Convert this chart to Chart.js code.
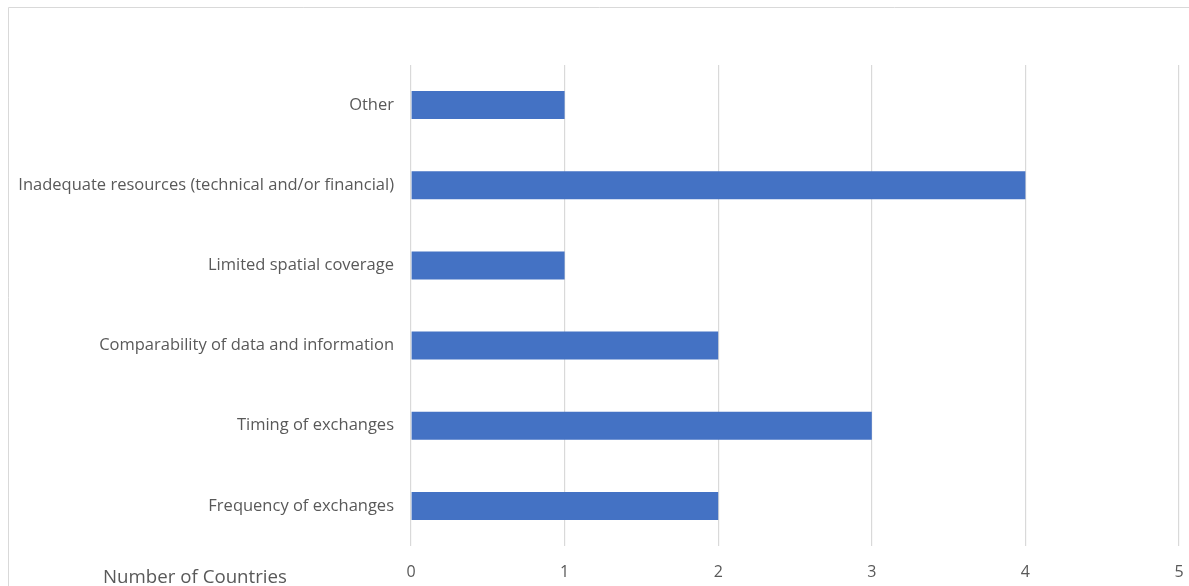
<!DOCTYPE html>
<html><head><meta charset="utf-8">
<script src="https://cdn.jsdelivr.net/npm/chart.js@4"></script>
<style>html,body{margin:0;padding:0;background:#fff;}#wrap{width:1189px;height:586px;position:relative;}</style>
</head><body><div id="wrap"><canvas id="c" width="1189" height="586"></canvas></div>
<script>
const categories = ["Other","Inadequate resources (technical and/or financial)","Limited spatial coverage","Comparability of data and information","Timing of exchanges","Frequency of exchanges"];
const values = [1,4,1,2,3,2];
const xTicks = [0,1,2,3,4,5];
const axisTitle = "Number of Countries";
const FONT = "'Open Sans', sans-serif";

const framePlugin = {
  id:'frame',
  beforeDraw(chart){
    const ctx = chart.ctx;
    ctx.save();
    ctx.strokeStyle = '#d9d9d9';
    ctx.lineWidth = 1;
    ctx.beginPath();
    ctx.moveTo(8.5, 600); ctx.lineTo(8.5, 7.5); ctx.lineTo(1200, 7.5);
    ctx.stroke();
    ctx.restore();
  },
  afterDraw(chart){
    const ctx = chart.ctx;
    ctx.save();
    ctx.fillStyle = '#595959';
    ctx.font = "18.7px " + FONT;
    ctx.textBaseline = 'middle';
    ctx.textAlign = 'left';
    ctx.fillText(axisTitle, 103, 578);
    ctx.restore();
  }
};

new Chart(document.getElementById('c'), {
  type:'bar',
  data:{labels:categories, datasets:[{data:values, backgroundColor:'#4472C4', barPercentage:0.7, categoryPercentage:0.5}]},
  options:{
    indexAxis:'y', responsive:false, animation:false,
    layout:{padding:{top:65,right:10,bottom:4,left:0}},
    plugins:{legend:{display:false}, tooltip:{enabled:false}},
    scales:{
      x:{min:0,max:5,
        afterBuildTicks(s){ s.ticks = xTicks.map(v=>({value:v})); },
        afterFit(s){ s.height = 36; s.paddingRight = 0; s.paddingLeft = 0; },
        grid:{color:'#d9d9d9', drawTicks:false, lineWidth:1.2},
        border:{display:false},
        ticks:{color:'#595959', font:{family:FONT,size:16}, padding:17, maxRotation:0}},
      y:{
        afterFit(s){ s.width = 411; s.paddingTop = 0; s.paddingBottom = 0; },
        grid:{display:false, drawTicks:false},
        border:{display:false},
        ticks:{color:'#595959', font:{family:FONT,size:16.5}, padding:17}}
    }
  },
  plugins:[framePlugin]
});
</script></body></html>
